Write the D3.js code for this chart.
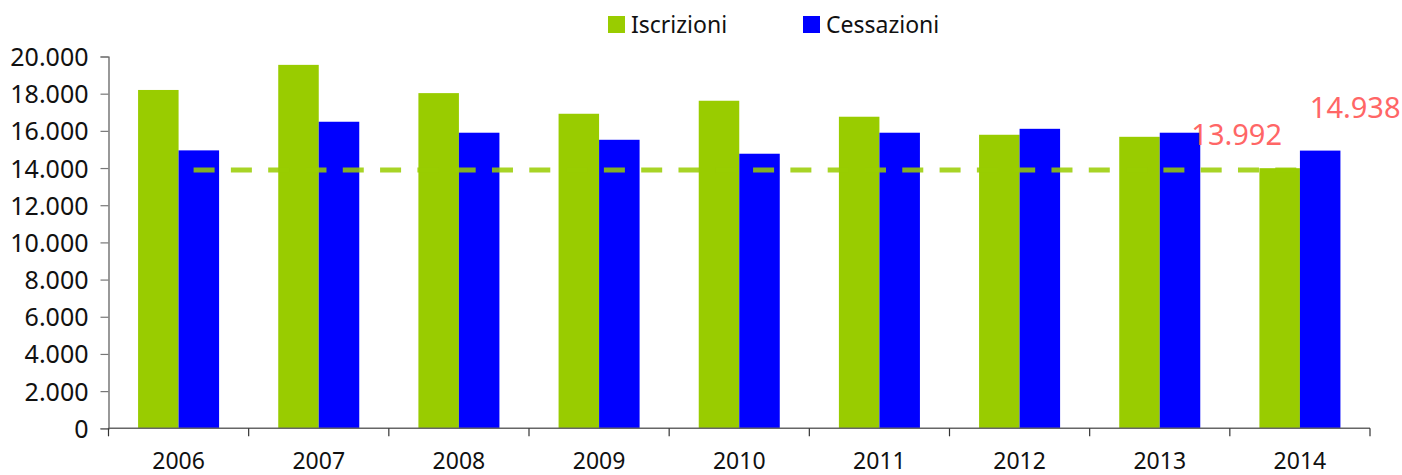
<!DOCTYPE html>
<html>
<head>
<meta charset="utf-8">
<script src="https://cdn.jsdelivr.net/npm/d3@7"></script>
<style>
  html, body { margin: 0; padding: 0; background: #fff; }
  svg { display: block; font-family: "Noto Sans", sans-serif; }
</style>
</head>
<body>
<svg id="chart" width="1402" height="475"></svg>
<script>
// ---- data ----
const years = ["2006", "2007", "2008", "2009", "2010", "2011", "2012", "2013", "2014"];
const seriesNames = ["Iscrizioni", "Cessazioni"];
const iscrizioni = [18200, 19550, 18030, 16920, 17620, 16760, 15790, 15680, 13992];
const cessazioni = [14950, 16490, 15900, 15520, 14770, 15900, 16110, 15900, 14938];
const yTicks = [0, 2000, 4000, 6000, 8000, 10000, 12000, 14000, 16000, 18000, 20000];
const referenceValue = 13992;
const annotations = [
  { year: "2014", series: "Iscrizioni", value: 13992, label: "13.992" },
  { year: "2014", series: "Cessazioni", value: 14938, label: "14.938" }
];
const colors = { "Iscrizioni": "#99cc00", "Cessazioni": "#0000ff" };

// ---- layout ----
const svg = d3.select("#chart");
const mLeft = 108.5, mRight = 1370, mTop = 56.5, mBottom = 428.3;

const x0 = d3.scaleBand().domain(years).range([mLeft, mRight]).padding(0);
const x1 = d3.scaleBand().domain(seriesNames).range([0, x0.bandwidth()])
  .paddingInner(0).paddingOuter(0.73);
const y = d3.scaleLinear().domain([0, 20000]).range([mBottom, mTop]);

const fmt = v => d3.format(",")(v).replace(/,/g, ".");

// bars
const rows = years.map((yr, i) => ({ year: yr, Iscrizioni: iscrizioni[i], Cessazioni: cessazioni[i] }));
const g = svg.append("g");
rows.forEach(r => {
  seriesNames.forEach(s => {
    g.append("rect")
      .attr("x", x0(r.year) + x1(s))
      .attr("y", y(r[s]))
      .attr("width", x1.bandwidth())
      .attr("height", y(0) - y(r[s]))
      .attr("fill", colors[s]);
  });
});

// dashed reference line
const lineStart = x0("2006") + x1("Cessazioni") + 15;
const lineEnd = x0("2014") + x1("Cessazioni");
svg.append("line")
  .attr("x1", lineStart).attr("x2", lineEnd)
  .attr("y1", y(referenceValue) + 1.7).attr("y2", y(referenceValue) + 1.7)
  .attr("stroke", "#99cc00")
  .attr("stroke-opacity", 0.85)
  .attr("stroke-width", 5)
  .attr("stroke-dasharray", "21,16.3");

// y axis
const yAxis = svg.append("g").attr("transform", `translate(${mLeft},0)`)
  .call(d3.axisLeft(y).tickValues(yTicks).tickFormat(fmt).tickSize(8).tickPadding(12));
yAxis.select(".domain").attr("stroke", "#555").attr("stroke-width", 1.2);
yAxis.selectAll(".tick line").attr("stroke", "#777").attr("stroke-width", 1.2);
yAxis.selectAll(".tick text")
  .attr("font-size", 25).attr("fill", "#111")
  .attr("font-family", "Noto Sans")
  .attr("dy", "0.36em");

// x axis
const xAxis = svg.append("g").attr("transform", `translate(0,${mBottom})`);
xAxis.append("line").attr("x1", mLeft).attr("x2", mRight).attr("y1", 0).attr("y2", 0)
  .attr("stroke", "#666").attr("stroke-width", 1.5);
const boundaries = years.map(yr => x0(yr)).concat([x0(years[years.length - 1]) + x0.step()]);
xAxis.selectAll("line.tk").data(boundaries).join("line").attr("class", "tk")
  .attr("x1", d => d).attr("x2", d => d).attr("y1", 0).attr("y2", 8)
  .attr("stroke", "#333").attr("stroke-width", 1.2);
xAxis.selectAll("text").data(years).join("text")
  .attr("x", d => x0(d) + x0.bandwidth() / 2)
  .attr("y", 40.5)
  .attr("text-anchor", "middle")
  .attr("font-size", 23).attr("fill", "#111")
  .text(d => d);

// annotations
const annOffsets = { "Iscrizioni": { dx: -43, dy: -23 }, "Cessazioni": { dx: 35, dy: -33 } };
annotations.forEach(a => {
  const cx = x0(a.year) + x1(a.series) + x1.bandwidth() / 2;
  svg.append("text")
    .attr("x", cx + annOffsets[a.series].dx)
    .attr("y", y(a.value) + annOffsets[a.series].dy)
    .attr("text-anchor", "middle")
    .attr("font-size", 29)
    .attr("fill", "#ff6666")
    .text(a.label);
});

// legend
const legendItems = [
  { name: "Iscrizioni", x: 608 },
  { name: "Cessazioni", x: 803 }
];
const lg = svg.append("g");
legendItems.forEach(it => {
  lg.append("rect").attr("x", it.x).attr("y", 16).attr("width", 17).attr("height", 17)
    .attr("fill", colors[it.name]);
  lg.append("text").attr("x", it.x + 23).attr("y", 33)
    .attr("font-size", 23).attr("fill", "#111").text(it.name);
});
</script>
</body>
</html>
